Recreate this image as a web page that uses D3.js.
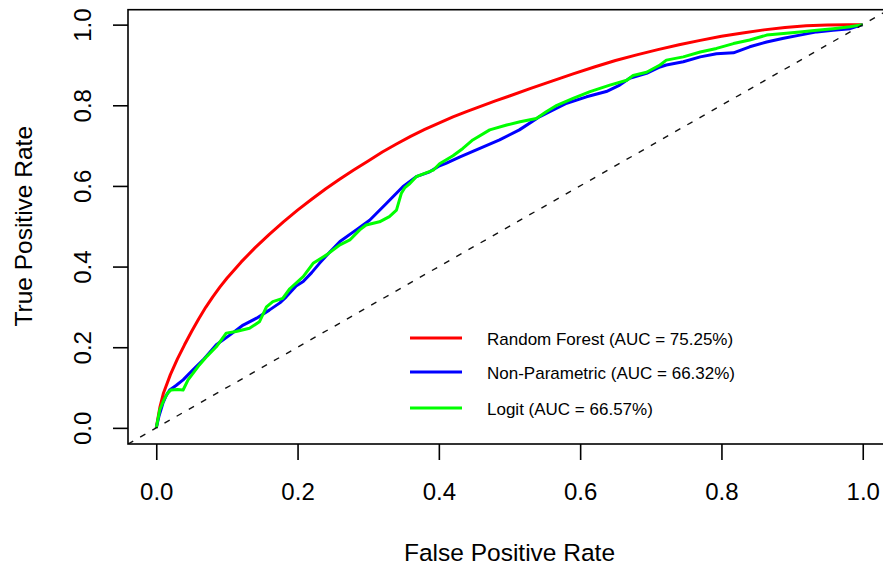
<!DOCTYPE html>
<html>
<head>
<meta charset="utf-8">
<script src="https://cdn.jsdelivr.net/npm/d3@7"></script>
<style>
  html, body { margin: 0; padding: 0; background: #fff; }
  svg { display: block; font-family: "Liberation Sans", Arial, sans-serif; }
</style>
</head>
<body>
<svg id="chart" width="883" height="567"></svg>
<script>
// ---- Data ----
const tickValues = [0, 0.2, 0.4, 0.6, 0.8, 1.0];
const seriesNames = ["Random Forest (AUC = 75.25%)", "Non-Parametric (AUC = 66.32%)", "Logit (AUC = 66.57%)"];
const seriesColors = ["#ff0000", "#0000ff", "#00ff00"];

const rfFPR = [0,0.005,0.01,0.02,0.03,0.04,0.05,0.06,0.07,0.08,0.09,0.10,0.12,0.14,0.16,0.18,0.20,0.22,0.24,0.26,0.28,0.30,0.32,0.34,0.36,0.38,0.40,0.42,0.44,0.46,0.48,0.50,0.53,0.56,0.59,0.62,0.65,0.68,0.71,0.74,0.77,0.80,0.83,0.86,0.89,0.92,0.95,0.98,1.0];
const rfTPR = [0,0.05,0.085,0.132,0.171,0.206,0.239,0.270,0.299,0.325,0.349,0.371,0.411,0.447,0.480,0.511,0.540,0.567,0.593,0.617,0.640,0.662,0.684,0.704,0.723,0.740,0.756,0.771,0.785,0.798,0.811,0.823,0.842,0.860,0.878,0.895,0.911,0.925,0.938,0.950,0.961,0.971,0.979,0.987,0.993,0.997,0.999,1.0,1.0];

const npFPR = [0,0.004,0.0094,0.014,0.019,0.028,0.038,0.052,0.066,0.085,0.104,0.123,0.142,0.16,0.175,0.184,0.198,0.208,0.22,0.231,0.245,0.26,0.283,0.302,0.326,0.349,0.368,0.387,0.401,0.41,0.43,0.458,0.486,0.514,0.543,0.557,0.581,0.609,0.637,0.656,0.67,0.694,0.713,0.722,0.746,0.77,0.793,0.817,0.84,0.864,0.888,0.911,0.935,0.958,0.982,1.0];
const npTPR = [0,0.03,0.061,0.08,0.094,0.105,0.119,0.144,0.168,0.206,0.230,0.255,0.272,0.292,0.31,0.325,0.352,0.363,0.385,0.408,0.435,0.462,0.491,0.515,0.557,0.598,0.623,0.635,0.650,0.656,0.672,0.693,0.714,0.739,0.772,0.784,0.805,0.821,0.834,0.85,0.867,0.879,0.895,0.90,0.908,0.92,0.928,0.93,0.945,0.957,0.966,0.974,0.982,0.986,0.99,1.0];

const lgFPR = [0,0.005,0.011,0.016,0.021,0.03,0.038,0.045,0.052,0.061,0.072,0.085,0.099,0.113,0.132,0.146,0.156,0.165,0.179,0.189,0.208,0.222,0.241,0.26,0.274,0.288,0.297,0.316,0.33,0.34,0.347,0.352,0.359,0.368,0.392,0.401,0.42,0.434,0.448,0.472,0.496,0.515,0.538,0.552,0.567,0.59,0.614,0.642,0.666,0.675,0.694,0.713,0.722,0.746,0.77,0.793,0.817,0.84,0.864,0.888,0.911,0.935,0.958,0.982,1.0];
const lgTPR = [0,0.045,0.07,0.086,0.094,0.095,0.094,0.119,0.135,0.156,0.178,0.201,0.235,0.239,0.247,0.263,0.30,0.313,0.321,0.345,0.375,0.408,0.429,0.454,0.466,0.491,0.503,0.511,0.524,0.54,0.582,0.596,0.606,0.623,0.639,0.655,0.675,0.693,0.714,0.739,0.751,0.759,0.767,0.784,0.80,0.817,0.834,0.85,0.862,0.874,0.882,0.90,0.912,0.92,0.932,0.941,0.953,0.962,0.974,0.978,0.982,0.986,0.99,0.995,1.0];

const series = [
  { name: seriesNames[0], color: seriesColors[0], x: rfFPR, y: rfTPR },
  { name: seriesNames[1], color: seriesColors[1], x: npFPR, y: npTPR },
  { name: seriesNames[2], color: seriesColors[2], x: lgFPR, y: lgTPR }
];

// ---- Layout ----
const svg = d3.select("#chart");
const plot = { left: 128, right: 891, top: 8.5, bottom: 444 };

const x = d3.scaleLinear().domain([-0.04, 1.04]).range([plot.left, plot.right]);
const y = d3.scaleLinear().domain([-0.04, 1.04]).range([plot.bottom, plot.top]);

svg.append("defs").append("clipPath").attr("id", "clip")
  .append("rect")
  .attr("x", plot.left).attr("y", plot.top)
  .attr("width", plot.right - plot.left).attr("height", plot.bottom - plot.top);

const g = svg.append("g").attr("clip-path", "url(#clip)");

const line = d3.line().x(d => x(d[0])).y(d => y(d[1]));

series.forEach(s => {
  const pts = s.x.map((v, i) => [v, s.y[i]]);
  g.append("path")
    .datum(pts)
    .attr("d", line)
    .attr("fill", "none")
    .attr("stroke", s.color)
    .attr("stroke-width", 3)
    .attr("stroke-linejoin", "round");
});

// diagonal reference line (abline 0,1)
g.append("line")
  .attr("x1", x(-0.04)).attr("y1", y(-0.04))
  .attr("x2", x(1.04)).attr("y2", y(1.04))
  .attr("stroke", "#111")
  .attr("stroke-width", 1.4)
  .attr("stroke-dasharray", "6,8");

// box
svg.append("rect")
  .attr("x", plot.left).attr("y", plot.top + 1.2)
  .attr("width", plot.right - plot.left).attr("height", plot.bottom - plot.top - 1.2)
  .attr("fill", "none").attr("stroke", "#000").attr("stroke-width", 1.6);

// x axis
const xAxis = svg.append("g")
  .attr("transform", `translate(0,${plot.bottom})`)
  .call(d3.axisBottom(x).tickValues(tickValues).tickSize(16).tickPadding(20).tickFormat(d3.format(".1f")));
xAxis.select(".domain").remove();
xAxis.selectAll(".tick line").attr("stroke", "#000").attr("stroke-width", 1.6);
xAxis.selectAll(".tick text")
  .attr("fill", "#000")
  .style("font-size", "24px")
  .attr("dy", null)
  .attr("y", 56);

// y axis
const yAxis = svg.append("g")
  .attr("transform", `translate(${plot.left},0)`)
  .call(d3.axisLeft(y).tickValues(tickValues).tickSize(15).tickFormat(d3.format(".1f")));
yAxis.select(".domain").remove();
yAxis.selectAll(".tick line").attr("stroke", "#000").attr("stroke-width", 1.6);
yAxis.selectAll(".tick text")
  .attr("fill", "#000")
  .style("font-size", "24px")
  .attr("x", null).attr("dy", null)
  .attr("text-anchor", "middle")
  .attr("transform", "translate(-37,0) rotate(-90)");

// axis titles
svg.append("text")
  .attr("x", (plot.left + plot.right) / 2)
  .attr("y", 561)
  .attr("text-anchor", "middle")
  .style("font-size", "24.5px")
  .attr("fill", "#000")
  .text("False Positive Rate");

svg.append("text")
  .attr("transform", `translate(32,${(plot.top + plot.bottom) / 2}) rotate(-90)`)
  .attr("text-anchor", "middle")
  .style("font-size", "24.5px")
  .attr("fill", "#000")
  .text("True Positive Rate");

// legend
const legendY = [338, 372, 408];
const legend = svg.append("g");
series.forEach((s, i) => {
  legend.append("line")
    .attr("x1", 410).attr("x2", 462)
    .attr("y1", legendY[i]).attr("y2", legendY[i])
    .attr("stroke", s.color).attr("stroke-width", 3);
  legend.append("text")
    .attr("x", 487).attr("y", legendY[i] + 7)
    .style("font-size", "17px")
    .attr("fill", "#000")
    .text(s.name);
});
</script>
</body>
</html>
